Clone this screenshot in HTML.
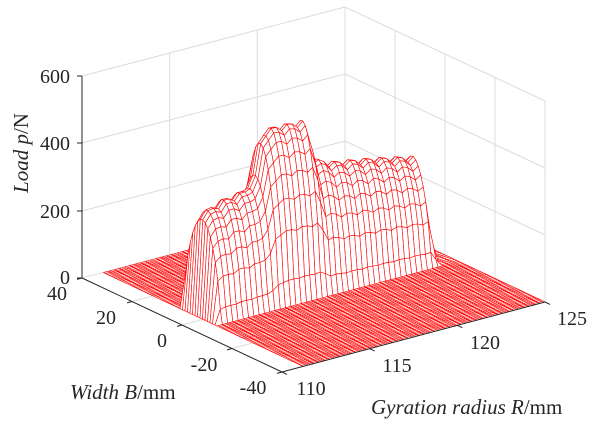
<!DOCTYPE html>
<html><head><meta charset="utf-8"><style>
html,body{margin:0;padding:0;background:#fff;width:600px;height:425px;overflow:hidden}
svg{display:block}
text{font-family:"Liberation Serif",serif;fill:#262626}
</style></head><body>
<svg id="s" width="600" height="425" viewBox="0 0 600 425" xmlns="http://www.w3.org/2000/svg">
<g stroke="#dcdcdc" stroke-width="1" fill="none">
<line x1="82" y1="211" x2="345" y2="141"/><line x1="82" y1="143" x2="345" y2="74"/><line x1="82" y1="76" x2="345" y2="7"/>
<line x1="169.7" y1="254.7" x2="169.7" y2="53.4"/><line x1="257.3" y1="231.3" x2="257.3" y2="30"/>
<line x1="345" y1="141" x2="545" y2="235"/><line x1="345" y1="74" x2="545" y2="168"/><line x1="345" y1="7" x2="545" y2="101"/>
<line x1="395" y1="231.5" x2="395" y2="30.5"/><line x1="445" y1="255" x2="445" y2="54"/><line x1="495" y1="278.5" x2="495" y2="77.5"/>
<line x1="345" y1="7" x2="345" y2="208"/><line x1="545" y1="101" x2="545" y2="302"/>
<line x1="82" y1="278" x2="345" y2="208"/><line x1="345" y1="208" x2="545" y2="302"/>
<line x1="132" y1="301.5" x2="395" y2="231.5"/><line x1="182" y1="325" x2="445" y2="255"/><line x1="232" y1="348.5" x2="495" y2="278.5"/>
<line x1="369.7" y1="348.7" x2="169.7" y2="254.7"/><line x1="457.3" y1="325.3" x2="257.3" y2="231.3"/>
</g>
<g id="mesh" fill="#fff" stroke="#ff0000" stroke-width="0.6" stroke-linejoin="round"></g>
<g stroke="#262626" stroke-width="1" fill="none">
<line x1="82" y1="76" x2="82" y2="278"/>
<line x1="82" y1="278" x2="282" y2="372"/>
<line x1="282" y1="372" x2="545" y2="302"/>
<line x1="82" y1="76" x2="77" y2="76"/><line x1="82" y1="143" x2="77" y2="143"/><line x1="82" y1="211" x2="77" y2="211"/><line x1="82" y1="278" x2="77" y2="278"/>
<line x1="82" y1="278" x2="77" y2="279.4"/><line x1="132" y1="301.5" x2="127" y2="302.9"/><line x1="182" y1="325" x2="177" y2="326.4"/><line x1="232" y1="348.5" x2="227" y2="349.9"/><line x1="282" y1="372" x2="277" y2="373.4"/>
<line x1="282" y1="372" x2="287" y2="374.4"/><line x1="369.7" y1="348.7" x2="374.7" y2="351.1"/><line x1="457.3" y1="325.3" x2="462.3" y2="327.7"/><line x1="545" y1="302" x2="550" y2="304.4"/>
</g>
<g font-size="20" text-anchor="end">
<text x="70" y="83">600</text><text x="70" y="150">400</text><text x="70" y="218">200</text><text x="70" y="284">0</text>
</g>
<g font-size="20" text-anchor="middle">
<text x="57" y="300">40</text><text x="106" y="324">20</text><text x="162" y="347">0</text><text x="204" y="371">-20</text><text x="253" y="394">-40</text>
<text x="311" y="395">110</text><text x="397" y="372">115</text><text x="485" y="349">120</text><text x="572" y="325">125</text>
</g>
<text x="70" y="399" font-size="21"><tspan font-style="italic">Width B</tspan>/mm</text>
<text x="371" y="414" font-size="21"><tspan font-style="italic">Gyration radius R</tspan>/mm</text>
<text transform="translate(28,153) rotate(-90)" font-size="21" text-anchor="middle"><tspan font-style="italic">Load p</tspan>/N</text>
</svg>
<script>
(function(){
function P(R,B,z){return [282+17.533*(R-110)-2.5*(B+40), 372-4.667*(R-110)-1.175*(B+40)-0.335*z];}
var kp=[[111.5,295],[112.6,320],[113.9,332],[114.5,370],[114.9,495],[115.7,500],[117.3,495],[117.6,410],[117.8,375],[118.8,350],[121,330],[124,295],[125,295]];
function prof(R){
 if(R<=kp[0][0])return kp[0][1];
 for(var i=1;i<kp.length;i++){if(R<=kp[i][0]){var a=kp[i-1],b=kp[i];return a[1]+(b[1]-a[1])*(R-a[0])/(b[0]-a[0]);}}
 return kp[kp.length-1][1];}
function env(R){
 if(R<=111.2||R>=123.95)return 0;
 var e=1;
 if(R<111.5)e=(R-111.2)/0.3;
 if(R>123.6)e=Math.min(e,(123.95-R)/0.35);
 return e;}
function sB(B){if(B<=-5||B>=10)return 0;var t=(B+5)/15;return Math.pow(Math.sin(Math.PI*t),0.6);}
function Z(R,B){var e=env(R);if(!e)return 0;var p=prof(R)+10*Math.sin(2*Math.PI*(R-118)/0.9);return p*e*sB(B);}
var Rs=[],Bs=[];
for(var r=111.2;r<=125.001;r+=0.3)Rs.push(r);
if(Rs[Rs.length-1]<125)Rs.push(125);
for(var b=-40;b<=40.001;){Bs.push(b);b+=(b>=-5&&b<10)?1:0.8;}
var q=[];
for(var i=0;i<Rs.length-1;i++)for(var j=0;j<Bs.length-1;j++){
 var R1=Rs[i],R2=Rs[i+1],B1=Bs[j],B2=Bs[j+1];
 var pts=[P(R1,B1,Z(R1,B1)),P(R2,B1,Z(R2,B1)),P(R2,B2,Z(R2,B2)),P(R1,B2,Z(R1,B2))];
 var d=200*((R1+R2)/2-110)/15+263*((B1+B2)/2+40)/80;
 q.push([d,pts]);}
q.sort(function(a,b){return b[0]-a[0];});
var s=[];
for(var k=0;k<q.length;k++){var p=q[k][1];
 s.push('<path d="M'+p[0][0].toFixed(1)+' '+p[0][1].toFixed(1)+'L'+p[1][0].toFixed(1)+' '+p[1][1].toFixed(1)+'L'+p[2][0].toFixed(1)+' '+p[2][1].toFixed(1)+'L'+p[3][0].toFixed(1)+' '+p[3][1].toFixed(1)+'Z"/>');}
document.getElementById('mesh').innerHTML=s.join('');
})();
</script>
</body></html>
